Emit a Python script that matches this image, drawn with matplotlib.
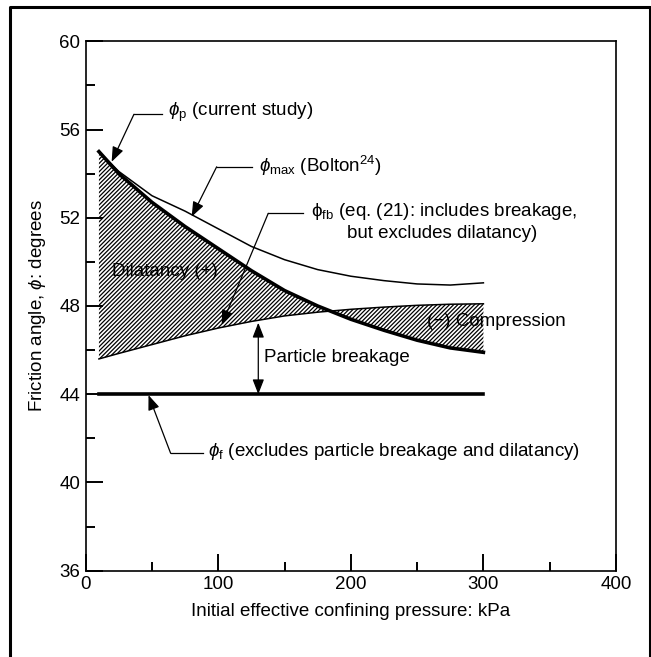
import numpy as np
import matplotlib
matplotlib.use("Agg")
import matplotlib.pyplot as plt
from matplotlib.lines import Line2D
from matplotlib.ticker import MultipleLocator

plt.rcParams['font.family'] = ['Liberation Sans', 'DejaVu Sans']
plt.rcParams['mathtext.fontset'] = 'custom'
plt.rcParams['mathtext.rm'] = 'Liberation Sans'
plt.rcParams['mathtext.it'] = 'Liberation Sans:italic'
plt.rcParams['hatch.linewidth'] = 0.9

# confining pressure (kPa)
pressure = [10, 25, 50, 75, 100, 125, 150, 175, 200, 225, 250, 275, 300]
# friction angles (degrees)
phi_p = [55.0, 54.0, 52.7, 51.6, 50.6, 49.6, 48.7, 48.0, 47.4, 46.9, 46.45, 46.1, 45.9]
phi_max = [55.0, 54.1, 53.0, 52.3, 51.5, 50.7, 50.1, 49.65, 49.35, 49.15, 49.0, 48.95, 49.05]
phi_fb = [45.6, 45.85, 46.25, 46.65, 47.0, 47.3, 47.55, 47.72, 47.85, 47.95, 48.03, 48.08, 48.1]
phi_f_x = [10, 300]
phi_f = [44.0, 44.0]

fig = plt.figure(figsize=(6.51, 6.57), dpi=100)
ax = fig.add_axes([0.1316, 0.1314, 0.8146, 0.8057])

# hatched band between phi_p and phi_fb
ax.fill_between(pressure, phi_p, phi_fb, facecolor='none', edgecolor='black',
                hatch='////////', linewidth=0, zorder=3)
ax.plot(pressure, phi_max, color='black', lw=1.1, zorder=4)
ax.plot(pressure, phi_fb, color='black', lw=1.1, zorder=4)
ax.plot(pressure, phi_p, color='black', lw=2.6, zorder=5)
ax.plot(phi_f_x, phi_f, color='black', lw=2.6, zorder=5)

fs = 13.5
head = 'head_length=0.9,head_width=0.35'
arr = dict(arrowstyle='-|>,' + head, color='black',
           lw=0.9, shrinkA=0, shrinkB=0, mutation_scale=10)


def leader(text, tip, corner, end, tx, ty):
    ax.plot([corner[0], end], [corner[1], corner[1]], color='black', lw=0.9, zorder=6)
    ax.annotate('', xy=tip, xytext=corner, arrowprops=arr, zorder=6)
    ax.text(tx, ty, text, fontsize=fs, ha='left', va='center', zorder=6)


leader(r'$\mathit{ϕ}_{\mathrm{p}}$ (current study)', (19.6, 54.54), (36.4, 56.69), 57.3, 62.1, 56.8)
leader(r'$\mathit{ϕ}_{\mathrm{max}}$ (Bolton$^{24}$)', (79.95, 52.05), (98.8, 54.31), 125.2, 130.9, 54.35)
leader(r'$\mathit{ϕ}_{\mathrm{f}}$ (excludes particle breakage and dilatancy)', (47.4, 43.96), (64.1, 41.32), 88.4, 92.4, 41.4)

# phi_fb leader with centered two-line text
ax.plot([137.7, 164.1], [52.2, 52.2], color='black', lw=0.9, zorder=6)
ax.annotate('', xy=(102.6, 47.14), xytext=(137.7, 52.2), arrowprops=arr, zorder=6)
ax.text(270.1, 52.3, r'$\mathrm{ϕ}_{\mathrm{fb}}$ (eq. (21): includes breakage,', fontsize=fs,
        ha='center', va='center', zorder=6)
ax.text(268.5, 51.29, 'but excludes dilatancy)', fontsize=fs, ha='center', va='center', zorder=6)

# particle breakage double arrow
ax.annotate('', xy=(130.2, 47.24), xytext=(130.2, 44.0),
            arrowprops=dict(arrowstyle='<|-|>,' + head, color='black',
                            lw=0.9, shrinkA=0, shrinkB=0, mutation_scale=10), zorder=6)
ax.text(134.5, 45.67, 'Particle breakage', fontsize=fs, ha='left', va='center', zorder=6)

ax.text(19.6, 49.55, 'Dilatancy (+)', fontsize=fs, ha='left', va='center', zorder=2)
ax.text(257.2, 47.29, '(\u2212) Compression', fontsize=fs, ha='left', va='center', zorder=2)

ax.set_xlim(0, 400)
ax.set_ylim(36, 60)
ax.xaxis.set_major_locator(MultipleLocator(100))
ax.xaxis.set_minor_locator(MultipleLocator(50))
ax.yaxis.set_major_locator(MultipleLocator(4))
ax.yaxis.set_minor_locator(MultipleLocator(2))
ax.tick_params(which='both', direction='in', top=False, right=False, width=1.4,
               labelsize=fs, pad=4)
ax.tick_params(which='major', length=12)
ax.tick_params(which='minor', length=6.5)
for s in ax.spines.values():
    s.set_linewidth(1.2)

ax.set_xlabel('Initial effective confining pressure: kPa', fontsize=fs, labelpad=7)
ax.set_ylabel(r'Friction angle, $\mathit{ϕ}$: degrees', fontsize=fs, labelpad=8)

# outer frame: left, top and right sides only
fx = [10 / 651, 10 / 651, 650 / 651, 650 / 651]
fy = [0.0, 1 - 7 / 657, 1 - 7 / 657, 0.0]
fig.add_artist(Line2D(fx, fy, transform=fig.transFigure, color='black', lw=2.2))

fig.savefig('out.png', dpi=100)
